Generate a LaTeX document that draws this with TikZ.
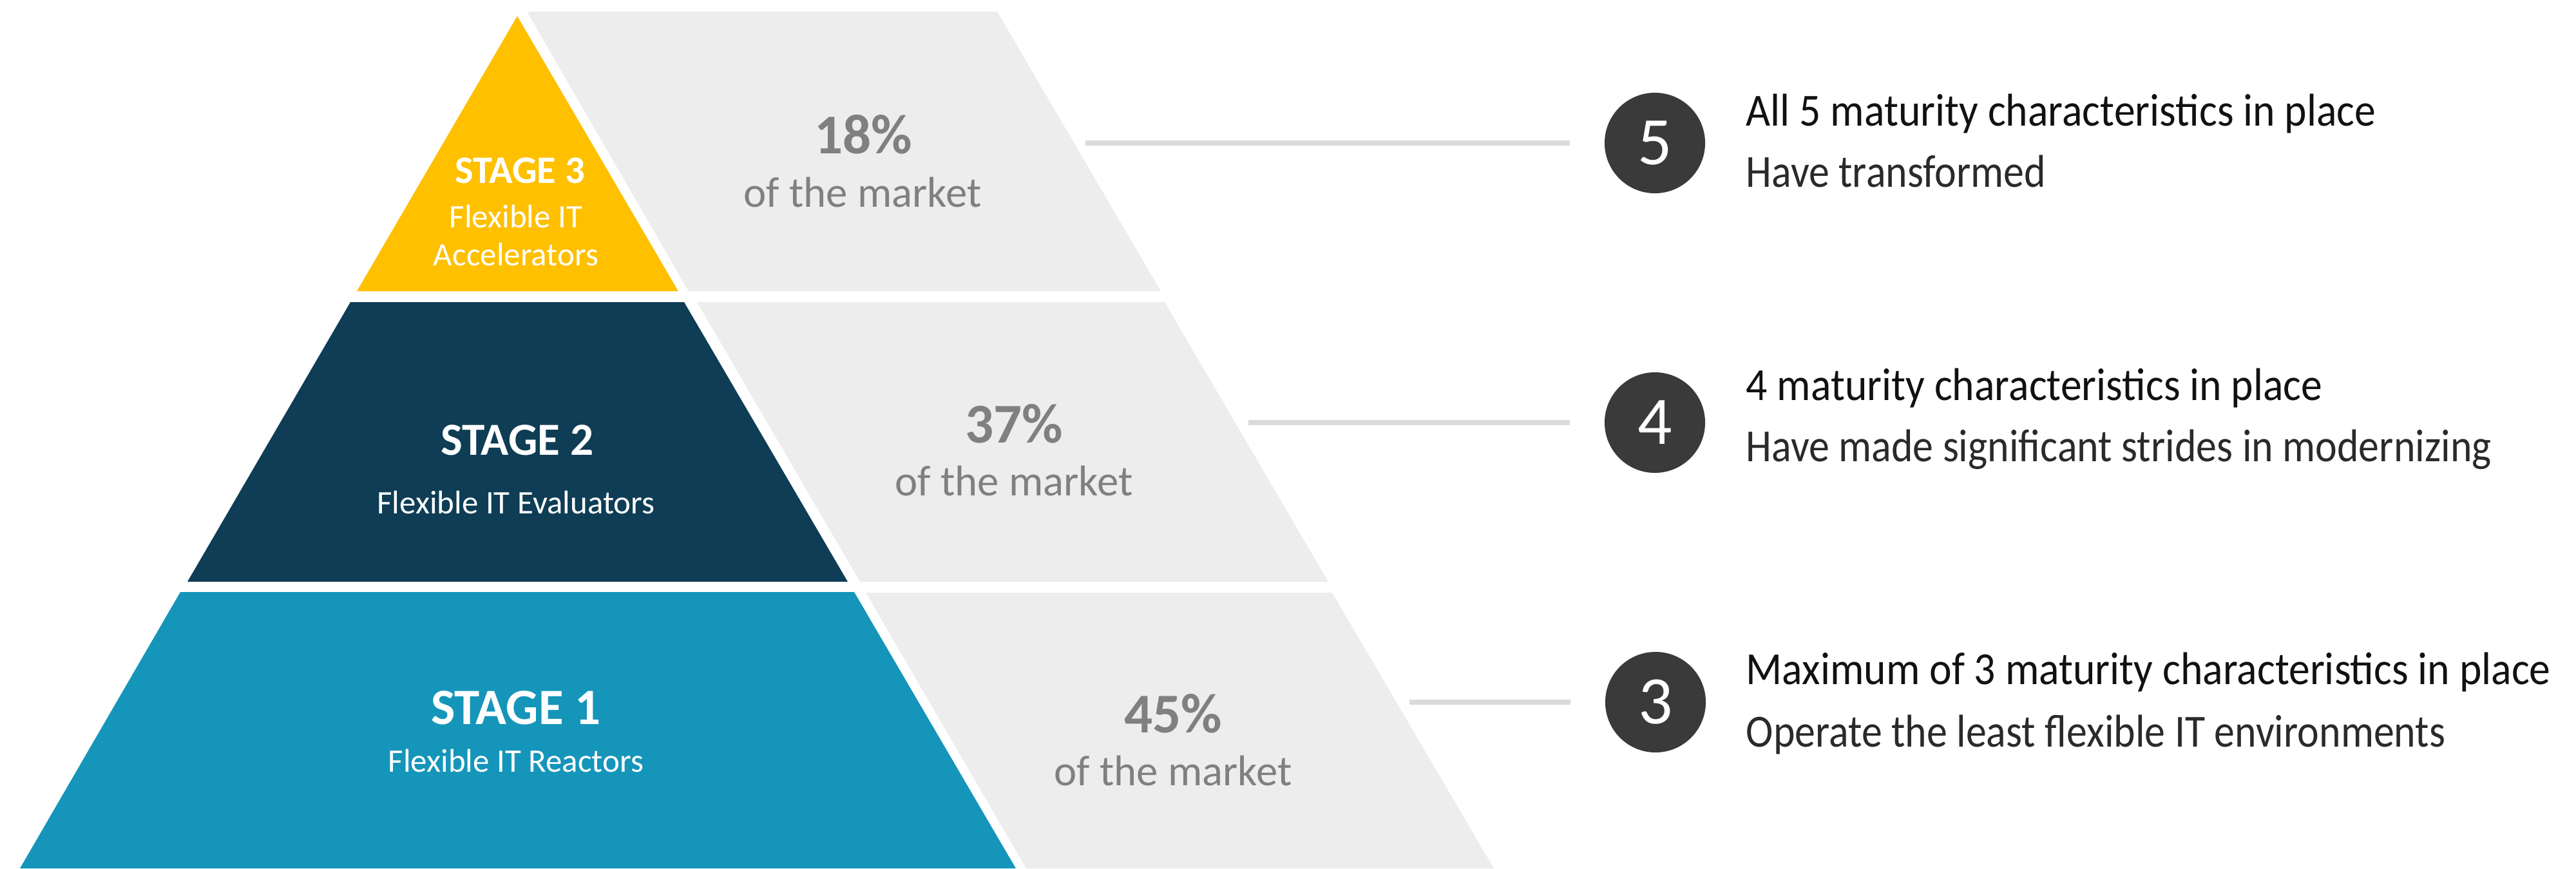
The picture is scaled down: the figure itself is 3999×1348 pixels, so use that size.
\documentclass[tikz,border=0pt]{standalone}
\usepackage{fontspec}
\setmainfont{Carlito}
\newfontfamily\rtfont[FakeStretch=0.92]{Carlito}
\newfontfamily\rsfont[FakeStretch=0.895]{Carlito}
\definecolor{yel}{HTML}{FFC000}
\definecolor{navy}{HTML}{0E3D55}
\definecolor{teal1}{HTML}{1595BA}
\definecolor{panel}{HTML}{EDEDED}
\definecolor{linegray}{HTML}{D9DADB}
\definecolor{pctgray}{HTML}{808080}
\definecolor{circ}{HTML}{3A3A3A}
\definecolor{ttl}{HTML}{111111}
\definecolor{subt}{HTML}{2A2A2A}
\begin{document}
\begin{tikzpicture}[x=0.01cm,y=-0.01cm,
  stagetitle/.style={anchor=base, inner sep=0, text=white},
  stagesub/.style={anchor=base, inner sep=0, text=white, font=\fontsize{14.5}{17}\selectfont},
  pct/.style={anchor=base, inner sep=0, text=pctgray, font=\bfseries\fontsize{24.8}{30}\selectfont},
  mkt/.style={anchor=base, inner sep=0, text=pctgray, font=\fontsize{19}{23}\selectfont},
  numcirc/.style={circle, fill=circ, minimum size=1.56cm, inner sep=0, text=white, font=\fontsize{30}{36}\selectfont},
  rtitle/.style={anchor=base west, inner sep=0, text=ttl, font=\rtfont\fontsize{20.3}{24}\selectfont},
  rsub/.style={anchor=base west, inner sep=0, text=subt, font=\rsfont\fontsize{20.3}{24}\selectfont},
  conn/.style={draw=linegray, line width=0.08cm}]
\useasboundingbox (0,0) rectangle (3999,1348);
\fill[white] (0,0) rectangle (3999,1348);
% pyramid
\fill[yel] (803,25) -- (1053,452) -- (554,452) -- cycle;
\fill[navy] (544,469) -- (1062,469) -- (1316,903) -- (291,903) -- cycle;
\fill[teal1] (280,919) -- (1326,919) -- (1577,1348) -- (31,1348) -- cycle;
% gray panels
\fill[panel] (818,18) -- (1548,18) -- (1802,452) -- (1069,452) -- cycle;
\fill[panel] (1082,469) -- (1808,469) -- (2062,903) -- (1335,903) -- cycle;
\fill[panel] (1344,920) -- (2068,920) -- (2319,1348) -- (1593,1348) -- cycle;
% stage texts
\node[stagetitle, font=\bfseries\fontsize{17.2}{20}\selectfont] (s3) at (807,284) {STAGE 3};
\node[stagesub] (s3a) at (801,353) {Flexible IT};
\node[stagesub] (s3b) at (801,412) {Accelerators};
\node[stagetitle, font=\bfseries\fontsize{20.3}{24}\selectfont] (s2) at (803,706) {STAGE 2};
\node[stagesub] (s2a) at (801,797) {Flexible IT Evaluators};
\node[stagetitle, font=\bfseries\fontsize{22.5}{27}\selectfont] (s1) at (801,1124) {STAGE 1};
\node[stagesub] (s1a) at (801,1198) {Flexible IT Reactors};
% percentages
\node[pct] (p3) at (1340,238) {18\%};
\node[mkt] (m3) at (1339,321) {of the market};
\node[pct] (p2) at (1574,687) {37\%};
\node[mkt] (m2) at (1574,769) {of the market};
\node[pct] (p1) at (1821,1137) {45\%};
\node[mkt] (m1) at (1821,1219) {of the market};
% circles
\node[numcirc] (c5) at (2569,222) {5};
\node[numcirc] (c4) at (2569,656) {4};
\node[numcirc] (c3) at (2570,1090) {3};
% connectors
\coordinate (l5) at (1685,222);
\coordinate (l4) at (1938,656);
\coordinate (l3) at (2188,1090);
\draw[conn] (l5) -- ([xshift=-0.53cm]c5.west);
\draw[conn] (l4) -- ([xshift=-0.53cm]c4.west);
\draw[conn] (l3) -- ([xshift=-0.53cm]c3.west);
% right texts
\node[rtitle] (t5) at (2710,195) {All 5 maturity characteristics in place};
\node[rsub] (u5) at (2710,290) {Have transformed};
\node[rtitle] (t4) at (2710,621) {4 maturity characteristics in place};
\node[rsub] (u4) at (2710,716) {Have made significant strides in modernizing};
\node[rtitle] (t3) at (2710,1062) {Maximum of 3 maturity characteristics in place};
\node[rsub] (u3) at (2710,1159) {Operate the least flexible IT environments};
\end{tikzpicture}
\end{document}
